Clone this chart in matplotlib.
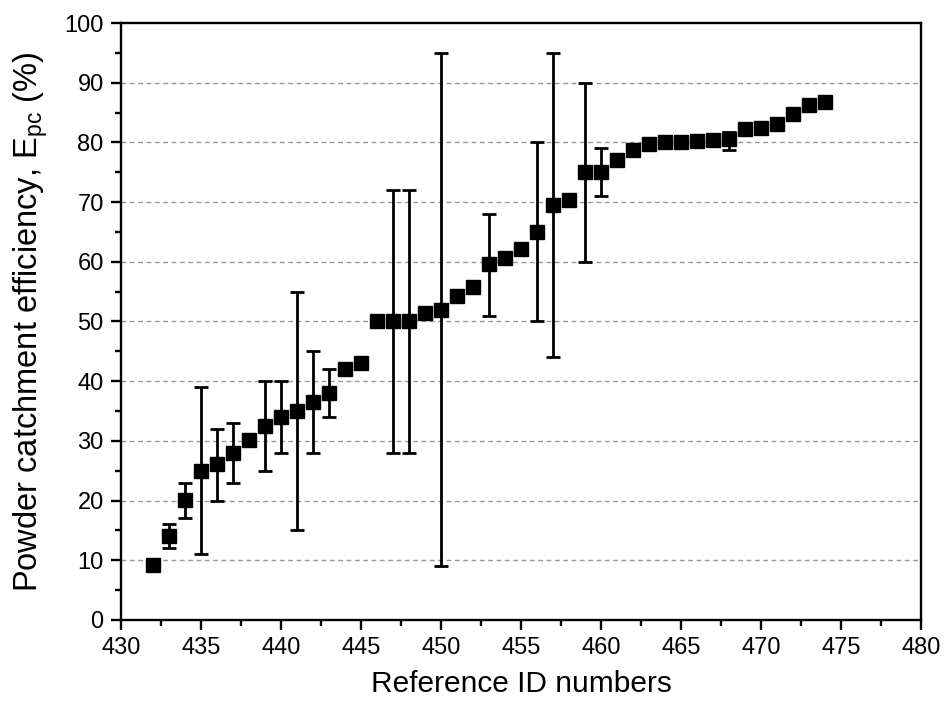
import matplotlib
matplotlib.use("Agg")
import matplotlib.pyplot as plt
from matplotlib.ticker import MultipleLocator
import numpy as np

ref_ids = [432, 433, 434, 435, 436, 437, 438, 439, 440, 441, 442, 443, 444, 445,
           446, 447, 448, 449, 450, 451, 452, 453, 454, 455, 456, 457, 458, 459,
           460, 461, 462, 463, 464, 465, 466, 467, 468, 469, 470, 471, 472, 473, 474]
efficiency = [9.2, 14.0, 20.1, 25.0, 26.1, 28.0, 30.1, 32.5, 34.0, 35.0, 36.5, 38.0, 42.1, 43.1,
              50.0, 50.0, 50.0, 51.5, 52.0, 54.2, 55.8, 59.6, 60.7, 62.1, 65.0, 69.5, 70.3, 75.0,
              75.1, 77.0, 78.7, 79.7, 80.0, 80.1, 80.2, 80.4, 80.5, 82.2, 82.4, 83.1, 84.7, 86.3, 86.8]
# error range (low, high); None = no error bar
err_low = [None, 12, 17, 11, 20, 23, None, 25, 28, 15, 28, 34, None, None,
           None, 28, 28, None, 9, None, None, 51, None, None, 50, 44, None, 60,
           71, None, None, None, None, None, None, None, 78.8, None, None, None, None, None, None]
err_high = [None, 16, 23, 39, 32, 33, None, 40, 40, 55, 45, 42, None, None,
            None, 72, 72, None, 95, None, None, 68, None, None, 80, 95, None, 90,
            79, None, None, None, None, None, None, None, 81.8, None, None, None, None, None, None]

plt.rcParams['font.family'] = ['Liberation Sans', 'DejaVu Sans']
fig = plt.figure(figsize=(9.44, 7.10), dpi=100)
ax = fig.add_axes([0.1282, 0.1268, 0.8475, 0.8408])

ex, ey, elo, ehi = [], [], [], []
for x, y, lo, hi in zip(ref_ids, efficiency, err_low, err_high):
    if lo is not None:
        ex.append(x); ey.append(y); elo.append(y - lo); ehi.append(hi - y)
ax.errorbar(ex, ey, yerr=[elo, ehi], fmt='none', ecolor='black', elinewidth=2.0,
            capsize=4.8, capthick=2.0, zorder=3)
ax.plot(ref_ids, efficiency, 's', color='black', markersize=10.5, zorder=4)

ax.set_xlim(430, 480)
ax.set_ylim(0, 100)
ax.xaxis.set_major_locator(MultipleLocator(5))
ax.xaxis.set_minor_locator(MultipleLocator(2.5))
ax.yaxis.set_major_locator(MultipleLocator(10))
ax.yaxis.set_minor_locator(MultipleLocator(5))

for yv in range(10, 100, 10):
    ax.axhline(yv, color='#9a9a9a', linestyle=(0, (3.5, 2.5)), linewidth=1.0, zorder=1)

for s in ax.spines.values():
    s.set_linewidth(1.7)
ax.tick_params(which='major', direction='out', length=7.5, width=1.7, labelsize=17, pad=5)
ax.tick_params(which='minor', direction='out', length=4.5, width=1.7)

ax.set_xlabel('Reference ID numbers', fontsize=21.5, labelpad=8)
ax.set_ylabel('Powder catchment efficiency, E$_{\\mathregular{pc}}$ (%)', fontsize=23.5, labelpad=10)

fig.savefig('out.png', dpi=100)
